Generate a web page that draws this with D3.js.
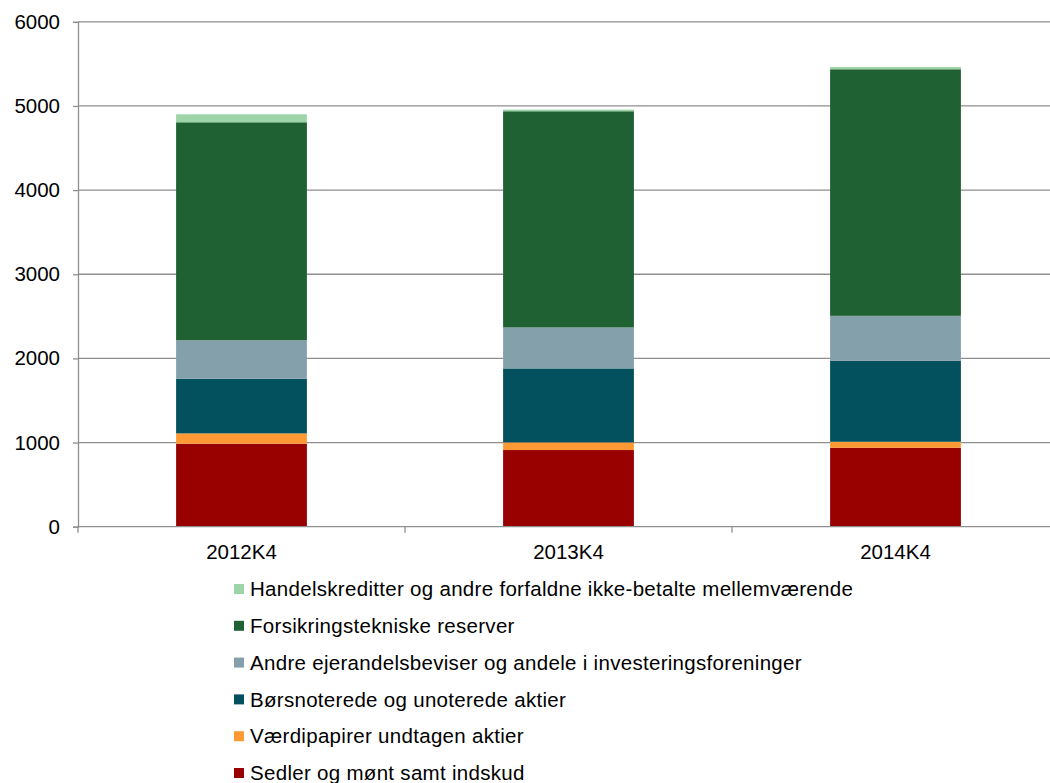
<!DOCTYPE html>
<html>
<head>
<meta charset="utf-8">
<script src="https://cdn.jsdelivr.net/npm/d3@7"></script>
<style>
  html, body { margin: 0; padding: 0; background: #fff; }
  svg { display: block; font-family: "Liberation Sans", Arial, sans-serif; }
</style>
</head>
<body>
<svg id="chart" width="1050" height="783"></svg>
<script>
// Quarters on the x axis
const categories = ["2012K4", "2013K4", "2014K4"];

// Stacked series, bottom to top
const seriesNames = [
  "Sedler og mønt samt indskud",
  "Værdipapirer undtagen aktier",
  "Børsnoterede og unoterede aktier",
  "Andre ejerandelsbeviser og andele i investeringsforeninger",
  "Forsikringstekniske reserver",
  "Handelskreditter og andre forfaldne ikke-betalte mellemværende"
];
const sedler        = [986, 911, 938];
const vaerdipapirer = [123, 91, 71];
const aktier        = [649, 879, 962];
const ejerandele    = [459, 487, 535];
const forsikring    = [2589, 2569, 2930];
const handel        = [95, 20, 27];

const seriesColors = ["#990000", "#ff9933", "#03505f", "#84a1ab", "#1f6133", "#9ed5a8"];
const yTicks = [0, 1000, 2000, 3000, 4000, 5000, 6000];

const seriesValues = [sedler, vaerdipapirer, aktier, ejerandele, forsikring, handel];
const rows = categories.map((c, i) => {
  const r = { cat: c };
  seriesNames.forEach((n, k) => { r[n] = seriesValues[k][i]; });
  return r;
});

const svg = d3.select("#chart");
// the plot area runs slightly past the right edge of the canvas
const plotLeft = 78, plotRight = 1059, plotTop = 21.8, plotBottom = 526.7;
const canvasRight = 1050;

const x = d3.scaleBand().domain(categories).range([plotLeft, plotRight]).paddingInner(0).paddingOuter(0);
const y = d3.scaleLinear().domain([0, 6000]).range([plotBottom, plotTop]);

const gridColor = "#8f8f8f";
const fontSize = 20.5;

// Horizontal gridlines
svg.append("g")
  .selectAll("line")
  .data(yTicks.filter(t => t > 0))
  .join("line")
  .attr("x1", plotLeft).attr("x2", canvasRight)
  .attr("y1", d => y(d)).attr("y2", d => y(d))
  .attr("stroke", gridColor).attr("stroke-width", 1.3);

// Stacked bars
const stack = d3.stack().keys(seriesNames);
const stacked = stack(rows);
const barW = x.bandwidth() * 0.4;

svg.append("g")
  .selectAll("g")
  .data(stacked)
  .join("g")
  .attr("fill", (d, i) => seriesColors[i])
  .selectAll("rect")
  .data(d => d)
  .join("rect")
  .attr("x", d => x(d.data.cat) + (x.bandwidth() - barW) / 2)
  .attr("width", barW)
  .attr("y", d => y(d[1]))
  .attr("height", d => y(d[0]) - y(d[1]));

// Y axis
const yAxis = d3.axisLeft(y).tickValues(yTicks).tickSize(5).tickPadding(13).tickFormat(d3.format("d"));
const gy = svg.append("g").attr("transform", `translate(${plotLeft},0)`).call(yAxis);
gy.select(".domain").attr("stroke", gridColor).attr("stroke-width", 1.3);
gy.selectAll(".tick line").attr("stroke", gridColor).attr("stroke-width", 1.3);
gy.selectAll(".tick text").attr("font-size", fontSize).attr("fill", "#000")
  .attr("font-family", "Liberation Sans, Arial, sans-serif");

// X axis: baseline plus ticks at category boundaries
const gx = svg.append("g").attr("transform", `translate(0,${plotBottom})`);
gx.append("line").attr("x1", plotLeft).attr("x2", canvasRight).attr("y1", 0).attr("y2", 0)
  .attr("stroke", gridColor).attr("stroke-width", 1.3);
const boundaries = categories.map(c => x(c)).concat([x(categories[categories.length - 1]) + x.bandwidth()]);
gx.selectAll("line.tk").data(boundaries).join("line").attr("class", "tk")
  .attr("x1", d => d).attr("x2", d => d).attr("y1", 0).attr("y2", 6)
  .attr("stroke", gridColor).attr("stroke-width", 1.3);
gx.selectAll("text").data(categories).join("text")
  .attr("x", d => x(d) + x.bandwidth() / 2)
  .attr("y", 32.6)
  .attr("text-anchor", "middle")
  .attr("font-size", fontSize)
  .attr("fill", "#000")
  .text(d => d);

// Legend, top series first
const legendItems = seriesNames.map((n, i) => ({ name: n, color: seriesColors[i] })).reverse();
const lg = svg.append("g").attr("transform", "translate(234,589)");
const item = lg.selectAll("g").data(legendItems).join("g")
  .attr("transform", (d, i) => `translate(0,${i * 36.8})`);
item.append("rect").attr("x", 0).attr("y", -5).attr("width", 10).attr("height", 10)
  .attr("fill", d => d.color);
item.append("text").attr("x", 16).attr("y", 0).attr("dy", "0.35em")
  .attr("font-size", 20.5).attr("letter-spacing", "0.3px").attr("fill", "#000")
  .text(d => d.name);
</script>
</body>
</html>
